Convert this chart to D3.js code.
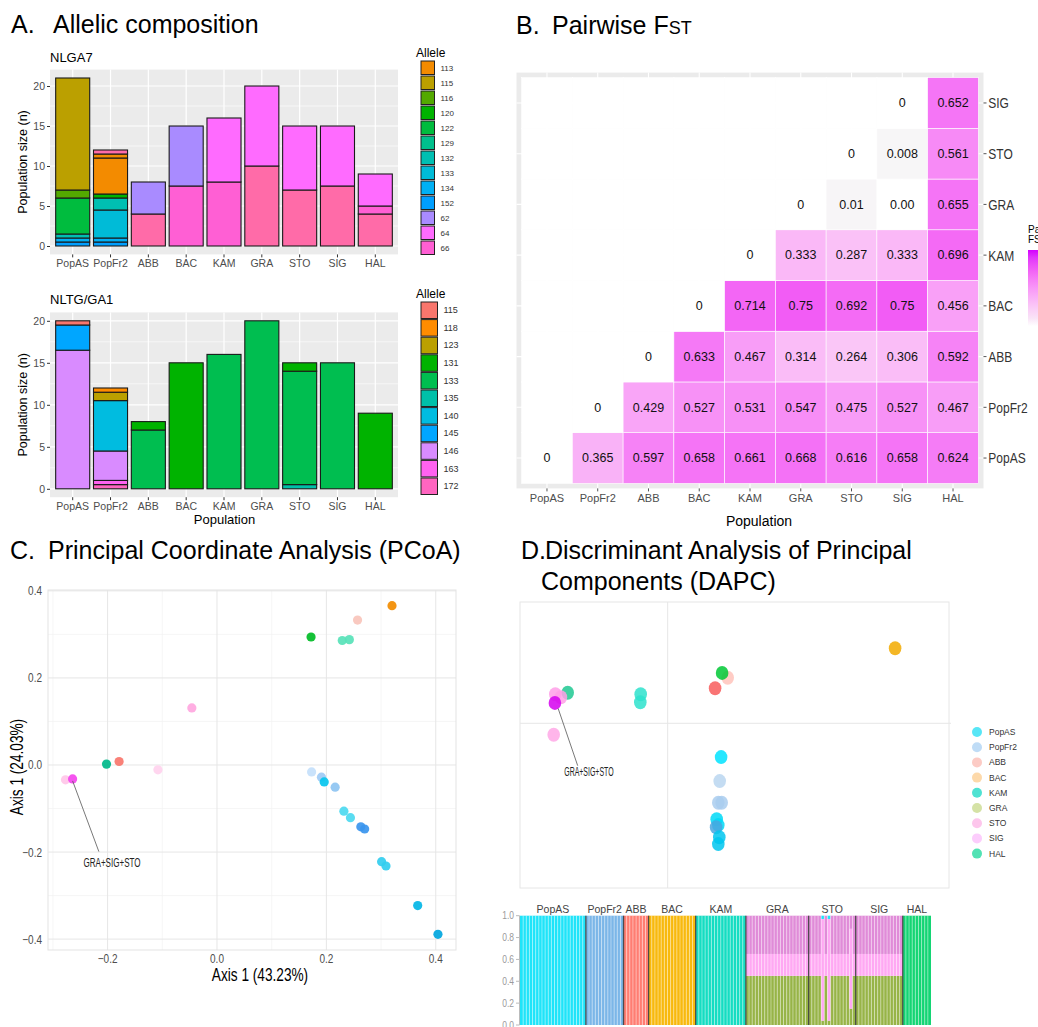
<!DOCTYPE html>
<html>
<head>
<meta charset="utf-8">
<script src="https://cdn.jsdelivr.net/npm/d3@7"></script>
<style>
  body { margin: 0; background: #fff; }
  svg { display: block; }
  text { font-family: "Liberation Sans", Arial, Helvetica, sans-serif; }
</style>
</head>
<body>
<svg id="fig" width="1038" height="1027"></svg>
<script>
// ---------- shared categories ----------
const populations = ["PopAS", "PopFr2", "ABB", "BAC", "KAM", "GRA", "STO", "SIG", "HAL"];

// ---------- A. allelic composition (counts per allele, stacked bottom to top) ----------
const nlga7Legend = ["113", "115", "116", "120", "122", "129", "132", "133", "134", "152", "62", "64", "66"];
const nlga7Colors = {
  "113": "#F38B00", "115": "#BBA000", "116": "#53A900", "120": "#00B300", "122": "#00BC3E",
  "129": "#00C08D", "132": "#00BFB2", "133": "#00BBD7", "134": "#00B0F4", "152": "#009FFF",
  "62": "#A98BFF", "64": "#FF6BFF", "66": "#FF5FD4", "other": "#FF6BA8"
};
const nlga7Stacks = {
  PopAS:  [["152", 0.5], ["134", 0.5], ["132", 0.5], ["122", 4.5], ["116", 1], ["115", 14]],
  PopFr2: [["152", 0.5], ["134", 0.5], ["133", 3.5], ["132", 1.5], ["120", 0.5], ["113", 4.5], ["113", 0.5], ["other", 0.5]],
  ABB:    [["other", 4], ["62", 4]],
  BAC:    [["66", 7.5], ["62", 7.5]],
  KAM:    [["66", 8], ["64", 8]],
  GRA:    [["other", 10], ["64", 10]],
  STO:    [["other", 7], ["64", 8]],
  SIG:    [["other", 7.5], ["64", 7.5]],
  HAL:    [["other", 4], ["66", 1], ["64", 4]]
};

const nltgLegend = ["115", "118", "123", "131", "133", "135", "140", "145", "146", "163", "172"];
const nltgColors = {
  "115": "#F8766D", "118": "#FF8C00", "123": "#BBA000", "131": "#00B300", "133": "#00BE50",
  "135": "#00C0A9", "140": "#00BCE0", "145": "#00A6FF", "146": "#D98BFF", "163": "#FF62F0", "172": "#FF65C0"
};
const nltgStacks = {
  PopAS:  [["146", 16.5], ["145", 3], ["115", 0.5]],
  PopFr2: [["172", 0.5], ["163", 0.5], ["146", 3.5], ["140", 6], ["123", 1], ["118", 0.5]],
  ABB:    [["133", 7], ["131", 1]],
  BAC:    [["131", 15]],
  KAM:    [["133", 16]],
  GRA:    [["133", 20]],
  STO:    [["135", 0.5], ["133", 13.5], ["131", 1]],
  SIG:    [["133", 15]],
  HAL:    [["131", 9]]
};
const countTicks = [0, 5, 10, 15, 20];

// ---------- B. pairwise FST (rows bottom to top, columns left to right) ----------
const fstRowPops = ["PopAS", "PopFr2", "ABB", "BAC", "KAM", "GRA", "STO", "SIG"];
const fstValues = [
  ["0", "0.365", "0.597", "0.658", "0.661", "0.668", "0.616", "0.658", "0.624"],
  [null, "0", "0.429", "0.527", "0.531", "0.547", "0.475", "0.527", "0.467"],
  [null, null, "0", "0.633", "0.467", "0.314", "0.264", "0.306", "0.592"],
  [null, null, null, "0", "0.714", "0.75", "0.692", "0.75", "0.456"],
  [null, null, null, null, "0", "0.333", "0.287", "0.333", "0.696"],
  [null, null, null, null, null, "0", "0.01", "0.00", "0.655"],
  [null, null, null, null, null, null, "0", "0.008", "0.561"],
  [null, null, null, null, null, null, null, "0", "0.652"]
];

// ---------- C. PCoA coordinates (axis 1, axis 2, colour group) ----------
const pcoaPalette = ["#F28C00", "#F9C4BB", "#00BC26", "#58E2B8", "#FFA7DF", "#FFD2EE", "#F8766D", "#00B98A",
  "#FFC6E8", "#F445EE", "#C4DFFB", "#9ECAF5", "#06C6EE", "#8EC4F2", "#4CD9F0", "#3A95EE", "#32CDEF", "#03B6E6", "#00A6DE"];
const pcoaPoints = [
  [0.320, 0.366, 0], [0.257, 0.333, 1], [0.172, 0.294, 2], [0.229, 0.286, 3], [0.242, 0.288, 3],
  [-0.046, 0.131, 4], [-0.108, -0.011, 5], [-0.179, 0.008, 6], [-0.202, 0.002, 7],
  [-0.277, -0.034, 8], [-0.264, -0.032, 9],
  [0.173, -0.016, 10], [0.191, -0.028, 11], [0.196, -0.039, 12], [0.216, -0.051, 13],
  [0.232, -0.106, 14], [0.244, -0.121, 14], [0.263, -0.142, 15], [0.270, -0.147, 15],
  [0.301, -0.222, 16], [0.309, -0.232, 16], [0.367, -0.323, 17], [0.404, -0.389, 18]
];
const pcoaTicks = [-0.4, -0.2, 0.0, 0.2, 0.4];
const pcoaNote = { text: "GRA+SIG+STO", from: [-0.264, -0.032], to: [-0.216, -0.199], at: [-0.192, -0.225] };

// ---------- D. DAPC scores (LD1, LD2, colour group) ----------
const dapcPalette = ["#F2AA00", "#00C835", "#FFC3BB", "#F85C5C", "#2EE2CC", "#1FC892", "#FF9FE8", "#D500EE",
  "#FFA8E6", "#00E3FF", "#BAD6F0", "#A9CCEE", "#00D9F7", "#4AA6DF", "#00C6EF"];
const dapcPoints = [
  [11.37, 3.75, 0], [3.00, 2.28, 2], [2.72, 2.52, 1], [2.37, 1.75, 3],
  [-1.35, 1.45, 4], [-1.37, 1.05, 4], [-5.00, 1.53, 5], [-5.62, 1.45, 6], [-5.34, 1.30, 6],
  [-5.64, 1.02, 7], [-5.70, -0.57, 8],
  [2.67, -1.69, 9], [2.60, -2.89, 10], [2.53, -3.97, 11], [2.70, -3.97, 11],
  [2.45, -4.80, 12], [2.53, -5.09, 12], [2.42, -5.20, 13], [2.58, -5.70, 14], [2.53, -6.04, 14]
];
const dapcNote = { text: "GRA+SIG+STO", from: [-5.48, 0.75], to: [-4.5, -2.12], at: [-3.94, -2.65] };
const dapcLegendColors = ["#58E6F6", "#BFDCF6", "#FCCBC5", "#FDD9AA", "#4FE2D2", "#D5E2A6", "#FDC6EC", "#FCCDFC", "#52E2B4"];

// ---------- D. membership probabilities ----------
const compoClusters = ["c6", "c7", "c8", "c1", "c2", "c3", "c4", "c5", "c9"];
const compoColors = ["#97B447", "#FFA8F3", "#E08BD8", "#1FE4F9", "#7BB6E8", "#FF7D72", "#F8B90D", "#14DDC2", "#14D574"];
const compoGroups = [
  { pop: "PopAS",  n: 21, q: [0, 0, 0, 1, 0, 0, 0, 0, 0] },
  { pop: "PopFr2", n: 12, q: [0, 0, 0, 0, 1, 0, 0, 0, 0] },
  { pop: "ABB",    n: 8,  q: [0, 0, 0, 0, 0, 1, 0, 0, 0] },
  { pop: "BAC",    n: 15, q: [0, 0, 0, 0, 0, 0, 1, 0, 0] },
  { pop: "KAM",    n: 16, q: [0, 0, 0, 0, 0, 0, 0, 1, 0] },
  { pop: "GRA",    n: 20, q: [0.45, 0.20, 0.35, 0, 0, 0, 0, 0, 0] },
  { pop: "STO",    n: 15, q: [0.45, 0.20, 0.35, 0, 0, 0, 0, 0, 0] },
  { pop: "SIG",    n: 15, q: [0.45, 0.20, 0.35, 0, 0, 0, 0, 0, 0] },
  { pop: "HAL",    n: 9,  q: [0, 0, 0, 0, 0, 0, 0, 0, 1] }
];
// STO individuals that depart from the group profile (index within STO)
const compoSTOIndividuals = {
  4:  [0.04, 0.93, 0, 0.03, 0, 0, 0, 0, 0],
  6:  [0.04, 0.93, 0, 0.03, 0, 0, 0, 0, 0],
  13: [0.15, 0.73, 0.12, 0, 0, 0, 0, 0, 0]
};
const probTicks = [0, 0.2, 0.4, 0.6, 0.8, 1.0];

// ================= drawing =================
const svg = d3.select("#fig");

function txt(parent, x, y, str, o = {}) {
  let tf = `translate(${x},${y})`;
  if (o.rotate) tf += ` rotate(${o.rotate})`;
  if (o.sx) tf += ` scale(${o.sx},1)`;
  return parent.append("text")
    .attr("transform", tf)
    .attr("font-size", o.size || 12)
    .attr("fill", o.fill || "#000")
    .attr("text-anchor", o.anchor || "start")
    .text(str);
}

// panel titles
txt(svg, 11, 33, "A.", { size: 25 });
txt(svg, 53, 33, "Allelic composition", { size: 25 });
txt(svg, 516, 34, "B.", { size: 25 });
const bt = txt(svg, 552, 34, "Pairwise F", { size: 25 });
bt.append("tspan").attr("font-size", 18).text("ST");
txt(svg, 10, 559, "C.", { size: 25 });
txt(svg, 48, 559, "Principal Coordinate Analysis (PCoA)", { size: 25 });
txt(svg, 521, 559, "D.", { size: 25 });
txt(svg, 545, 559, "Discriminant Analysis of Principal", { size: 25 });
txt(svg, 541, 590, "Components (DAPC)", { size: 25 });

// ---------- A ----------
function drawAllele(cfg) {
  const g = svg.append("g");
  const L = 50, R = 398;
  const x = d3.scaleBand().domain(populations).range([L, R]).paddingInner(0.1).paddingOuter(0.15);
  const y = d3.scaleLinear().domain([-0.05 * cfg.max, 1.05 * cfg.max]).range([cfg.bottom, cfg.top]);

  g.append("rect").attr("x", L).attr("y", cfg.top).attr("width", R - L).attr("height", cfg.bottom - cfg.top).attr("fill", "#EBEBEB");
  g.selectAll("line.minor").data([2.5, 7.5, 12.5, 17.5]).join("line")
    .attr("x1", L).attr("x2", R).attr("y1", d => y(d)).attr("y2", d => y(d))
    .attr("stroke", "#fff").attr("stroke-width", 0.6);
  g.selectAll("line.majy").data(countTicks).join("line")
    .attr("x1", L).attr("x2", R).attr("y1", d => y(d)).attr("y2", d => y(d))
    .attr("stroke", "#fff").attr("stroke-width", 1.2);
  g.selectAll("line.majx").data(populations).join("line")
    .attr("x1", d => x(d) + x.bandwidth() / 2).attr("x2", d => x(d) + x.bandwidth() / 2)
    .attr("y1", cfg.top).attr("y2", cfg.bottom)
    .attr("stroke", "#fff").attr("stroke-width", 1.2);

  const segs = [];
  populations.forEach(p => {
    let acc = 0;
    cfg.stacks[p].forEach(([allele, n]) => {
      segs.push({ p, allele, y0: acc, y1: acc + n });
      acc += n;
    });
  });
  g.selectAll("rect.seg").data(segs).join("rect")
    .attr("x", d => x(d.p)).attr("width", x.bandwidth())
    .attr("y", d => y(d.y1)).attr("height", d => y(d.y0) - y(d.y1))
    .attr("fill", d => cfg.colors[d.allele])
    .attr("stroke", "#1a1a1a").attr("stroke-width", 1.1);

  const ya = g.append("g").attr("transform", `translate(${L},0)`)
    .call(d3.axisLeft(y).tickValues(countTicks).tickSize(3).tickPadding(2));
  const xa = g.append("g").attr("transform", `translate(0,${cfg.bottom})`)
    .call(d3.axisBottom(x).tickSize(3).tickPadding(2));
  [ya, xa].forEach(a => {
    a.select(".domain").remove();
    a.selectAll(".tick line").attr("stroke", "#333");
    a.selectAll(".tick text").attr("fill", "#4D4D4D").attr("font-size", 10.5)
      .attr("font-family", '"Liberation Sans", Arial, sans-serif');
  });

  txt(g, 50, cfg.top - 8, cfg.title, { size: 13 });
  txt(g, 27, (cfg.top + cfg.bottom) / 2, "Population size (n)", { size: 12.5, rotate: -90, anchor: "middle" });

  // legend
  txt(g, 416, cfg.legendTop - 4, "Allele", { size: 12 });
  const lg = g.selectAll("g.key").data(cfg.legend).join("g")
    .attr("transform", (d, i) => `translate(421,${cfg.legendTop + i * cfg.legendStep})`);
  lg.append("rect").attr("width", cfg.keyW).attr("height", cfg.keyH)
    .attr("fill", d => cfg.colors[d]).attr("stroke", "#222").attr("stroke-width", 1);
  lg.append("text").attr("x", cfg.keyW + 6).attr("y", cfg.keyH / 2 + 3)
    .attr("font-size", cfg.legendFont).attr("fill", "#333").text(d => d);
}

drawAllele({ stacks: nlga7Stacks, colors: nlga7Colors, legend: nlga7Legend, max: 21, top: 69.6, bottom: 254.4,
  title: "NLGA7", legendTop: 61, legendStep: 15, keyW: 13.5, keyH: 13.5, legendFont: 8 });
drawAllele({ stacks: nltgStacks, colors: nltgColors, legend: nltgLegend, max: 20, top: 312.4, bottom: 497.2,
  title: "NLTG/GA1", legendTop: 302, legendStep: 17.6, keyW: 16.5, keyH: 16.5, legendFont: 9 });
txt(svg, 224.5, 524, "Population", { size: 13, anchor: "middle" });

// ---------- B ----------
(function drawFst() {
  const g = svg.append("g");
  const x = d3.scaleBand().domain(populations).range([521.6, 978.4]);
  const y = d3.scaleBand().domain(fstRowPops).range([483.4, 77.6]);
  const fill = d3.scaleLinear().domain([0, 0.75, 1]).range(["#F7F7F7", "#F25CF5", "#D400FF"]).interpolate(d3.interpolateLab);
  const colorOf = v => (v === null || +v <= 0) ? "#FFFFFF" : fill(+v);

  g.append("rect").attr("x", 516.5).attr("y", 72.6).attr("width", 467).attr("height", 415.8).attr("fill", "#EBEBEB");
  g.selectAll("line.gx").data(populations).join("line")
    .attr("x1", d => x(d) + x.bandwidth() / 2).attr("x2", d => x(d) + x.bandwidth() / 2)
    .attr("y1", 72.6).attr("y2", 488.4).attr("stroke", "#fff").attr("stroke-width", 1.1);
  g.selectAll("line.gy").data(fstRowPops).join("line")
    .attr("y1", d => y(d) + y.bandwidth() / 2).attr("y2", d => y(d) + y.bandwidth() / 2)
    .attr("x1", 516.5).attr("x2", 983.5).attr("stroke", "#fff").attr("stroke-width", 1.1);

  const cells = [];
  fstRowPops.forEach((r, i) => populations.forEach((c, j) => cells.push({ r, c, v: fstValues[i][j] })));
  g.selectAll("rect.tile").data(cells).join("rect")
    .attr("x", d => x(d.c)).attr("y", d => y(d.r))
    .attr("width", x.bandwidth()).attr("height", y.bandwidth())
    .attr("fill", d => colorOf(d.v)).attr("stroke", "#fff").attr("stroke-width", 0.6);
  g.selectAll("text.val").data(cells.filter(d => d.v !== null)).join("text")
    .attr("x", d => x(d.c) + x.bandwidth() / 2).attr("y", d => y(d.r) + y.bandwidth() / 2 + 4.3)
    .attr("text-anchor", "middle").attr("font-size", 12.5).attr("fill", "#111").text(d => d.v);

  const xa = g.append("g").attr("transform", "translate(0,488.4)").call(d3.axisBottom(x).tickSize(3).tickPadding(3));
  xa.select(".domain").remove();
  xa.selectAll(".tick line").attr("stroke", "#555");
  xa.selectAll(".tick text").attr("fill", "#4D4D4D").attr("font-size", 11).attr("font-family", '"Liberation Sans", Arial, sans-serif');
  const ya = g.append("g").attr("transform", "translate(983.5,0)").call(d3.axisRight(y).tickSize(3).tickPadding(2));
  ya.select(".domain").remove();
  ya.selectAll(".tick line").attr("stroke", "#555");
  ya.selectAll(".tick text").attr("fill", "#333").attr("font-size", 15).attr("dy", "0.36em")
    .attr("font-family", '"Liberation Sans", Arial, sans-serif')
    .attr("transform", "scale(0.8,1)").attr("x", 6);

  txt(g, 759, 526, "Population", { size: 14, anchor: "middle" });

  // colour bar
  txt(g, 1028, 233, "Pairwise", { size: 10 });
  txt(g, 1028, 243, "FST", { size: 10 });
  const defs = svg.append("defs");
  const grad = defs.append("linearGradient").attr("id", "fstbar").attr("x1", 0).attr("y1", 1).attr("x2", 0).attr("y2", 0);
  d3.range(0, 1.0001, 0.1).forEach(t => grad.append("stop").attr("offset", t).attr("stop-color", t === 0 ? "#FFFFFF" : fill(t)));
  g.append("rect").attr("x", 1028).attr("y", 250).attr("width", 20).attr("height", 76).attr("fill", "url(#fstbar)");
})();

// ---------- C ----------
(function drawPcoa() {
  const g = svg.append("g");
  const L = 48, R = 456, T = 590, B = 950;
  const x = d3.scaleLinear().domain([-0.309, 0.437]).range([L, R]);
  const y = d3.scaleLinear().domain([-0.425, 0.402]).range([B, T]);
  const minor = [-0.3, -0.1, 0.1, 0.3];

  g.selectAll("line.mx").data(minor.filter(v => v > -0.309 && v < 0.437)).join("line")
    .attr("x1", d => x(d)).attr("x2", d => x(d)).attr("y1", T).attr("y2", B).attr("stroke", "#F2F2F2").attr("stroke-width", 0.7);
  g.selectAll("line.my").data(minor).join("line")
    .attr("y1", d => y(d)).attr("y2", d => y(d)).attr("x1", L).attr("x2", R).attr("stroke", "#F2F2F2").attr("stroke-width", 0.7);
  g.selectAll("line.Mx").data(pcoaTicks.filter(v => v > -0.309)).join("line")
    .attr("x1", d => x(d)).attr("x2", d => x(d)).attr("y1", T).attr("y2", B).attr("stroke", "#E6E6E6").attr("stroke-width", 1);
  g.selectAll("line.My").data(pcoaTicks).join("line")
    .attr("y1", d => y(d)).attr("y2", d => y(d)).attr("x1", L).attr("x2", R).attr("stroke", "#E6E6E6").attr("stroke-width", 1);
  g.append("rect").attr("x", L).attr("y", T).attr("width", R - L).attr("height", B - T)
    .attr("fill", "none").attr("stroke", "#E3E3E3").attr("stroke-width", 1);

  const fmt = d3.format(".1f");
  pcoaTicks.forEach(v => {
    if (v > -0.309) txt(g, x(v), 963, fmt(v), { size: 12.5, anchor: "middle", fill: "#4D4D4D", sx: 0.8 });
    txt(g, 42, y(v) + 4.5, fmt(v), { size: 12.5, anchor: "end", fill: "#4D4D4D", sx: 0.8 });
  });
  txt(g, 260, 981, "Axis 1 (43.23%)", { size: 17.5, anchor: "middle", sx: 0.78 });
  txt(g, 23, 767, "Axis 1 (24.03%)", { size: 17.5, anchor: "middle", rotate: -90, sx: 0.78 });

  g.selectAll("circle.pt").data(pcoaPoints).join("circle")
    .attr("cx", d => x(d[0])).attr("cy", d => y(d[1])).attr("r", 4.6)
    .attr("fill", d => pcoaPalette[d[2]]).attr("fill-opacity", 0.92);

  g.append("line").attr("x1", x(pcoaNote.from[0])).attr("y1", y(pcoaNote.from[1]) + 2)
    .attr("x2", x(pcoaNote.to[0])).attr("y2", y(pcoaNote.to[1]))
    .attr("stroke", "#555").attr("stroke-width", 0.8);
  txt(g, x(pcoaNote.at[0]), y(pcoaNote.at[1]) + 4, pcoaNote.text, { size: 13, anchor: "middle", fill: "#222", sx: 0.62 });
})();

// ---------- D scatter ----------
(function drawDapc() {
  const g = svg.append("g");
  const L = 520, R = 949, T = 602, B = 888;
  const x = d3.scaleLinear().domain([-7.385, 14.065]).range([L, R]);
  const y = d3.scaleLinear().domain([-8.235, 6.065]).range([B, T]);

  g.append("rect").attr("x", L).attr("y", T).attr("width", R - L).attr("height", B - T)
    .attr("fill", "none").attr("stroke", "#E6E6E6").attr("stroke-width", 1);
  g.append("line").attr("x1", x(0)).attr("x2", x(0)).attr("y1", T).attr("y2", B).attr("stroke", "#E6E6E6");
  g.append("line").attr("y1", y(0)).attr("y2", y(0)).attr("x1", L).attr("x2", R + 2).attr("stroke", "#E6E6E6");

  g.selectAll("ellipse.pt").data(dapcPoints).join("ellipse")
    .attr("cx", d => x(d[0])).attr("cy", d => y(d[1])).attr("rx", 6.3).attr("ry", 7)
    .attr("fill", d => dapcPalette[d[2]]).attr("fill-opacity", 0.85);

  g.append("line").attr("x1", x(dapcNote.from[0])).attr("y1", y(dapcNote.from[1]))
    .attr("x2", x(dapcNote.to[0])).attr("y2", y(dapcNote.to[1]))
    .attr("stroke", "#555").attr("stroke-width", 0.8);
  txt(g, x(dapcNote.at[0]), y(dapcNote.at[1]), dapcNote.text, { size: 12, anchor: "middle", fill: "#222", sx: 0.58 });

  const lg = g.selectAll("g.key").data(populations).join("g")
    .attr("transform", (d, i) => `translate(977,${732 + i * 15.2})`);
  lg.append("circle").attr("r", 5).attr("fill", (d, i) => dapcLegendColors[i]);
  lg.append("text").attr("x", 12).attr("y", 3).attr("font-size", 8.5).attr("fill", "#333").text(d => d);
})();

// ---------- D membership bars ----------
(function drawCompo() {
  const g = svg.append("g");
  const individuals = [];
  compoGroups.forEach(grp => {
    for (let i = 0; i < grp.n; i++) {
      const q = (grp.pop === "STO" && compoSTOIndividuals[i]) ? compoSTOIndividuals[i] : grp.q;
      individuals.push({ pop: grp.pop, q });
    }
  });
  const x = d3.scaleBand().domain(d3.range(individuals.length)).range([520, 931]);
  const y = d3.scaleLinear().domain([0, 1]).range([1025, 915.7]);

  individuals.forEach((ind, i) => {
    let acc = 0;
    ind.q.forEach((v, k) => {
      if (v <= 0) return;
      g.append("rect").attr("x", x(i)).attr("width", x.bandwidth())
        .attr("y", y(acc + v)).attr("height", y(acc) - y(acc + v))
        .attr("fill", compoColors[k]);
      acc += v;
    });
  });
  // thin separators between individuals
  g.selectAll("line.sep").data(d3.range(1, individuals.length)).join("line")
    .attr("x1", d => x(d)).attr("x2", d => x(d)).attr("y1", y(1)).attr("y2", y(0))
    .attr("stroke", "#fff").attr("stroke-width", 0.6).attr("stroke-opacity", 0.7);

  // population boundaries and labels
  let start = 0;
  compoGroups.forEach((grp, gi) => {
    const x0 = x(start), x1 = x(start + grp.n - 1) + x.bandwidth();
    txt(g, (x0 + x1) / 2, 913, grp.pop, { size: 10.5, anchor: "middle", fill: "#444" });
    if (gi > 0) g.append("line").attr("x1", x0).attr("x2", x0).attr("y1", y(1)).attr("y2", y(0))
      .attr("stroke", "#333").attr("stroke-width", 1.3).attr("stroke-opacity", 0.85);
    start += grp.n;
  });

  g.append("line").attr("x1", 519.5).attr("x2", 519.5).attr("y1", y(1)).attr("y2", y(0)).attr("stroke", "#BBB");
  probTicks.forEach(v => {
    g.append("line").attr("x1", 516).attr("x2", 519.5).attr("y1", y(v)).attr("y2", y(v)).attr("stroke", "#BBB");
    txt(g, 514, y(v) + 3.5, d3.format(".1f")(v), { size: 10, anchor: "end", fill: "#9A9A9A", sx: 0.85 });
  });
})();
</script>
</body>
</html>
